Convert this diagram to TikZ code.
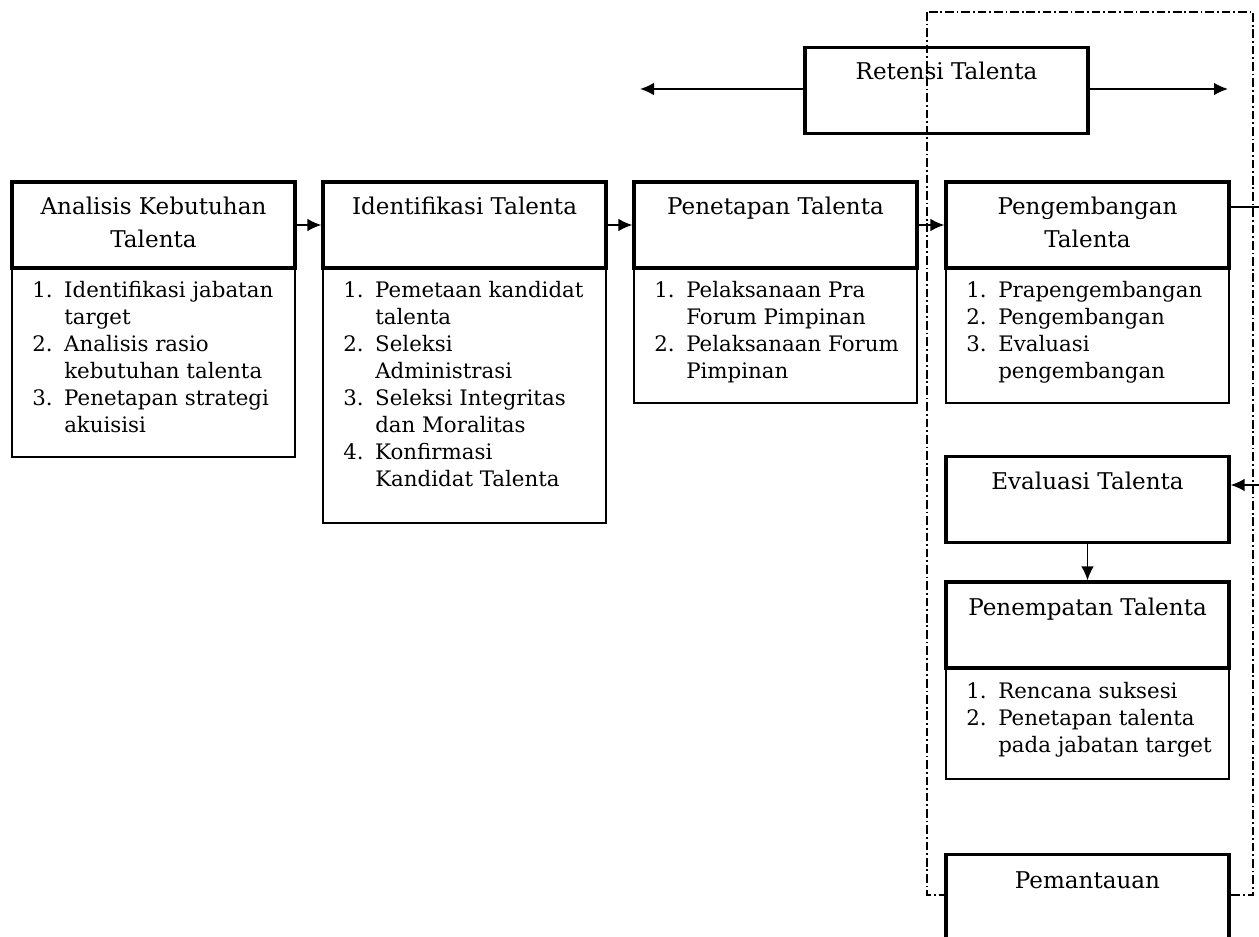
\documentclass[tikz,border=0pt]{standalone}
\usepackage{fontspec}
\setmainfont{DejaVu Serif}
\usetikzlibrary{arrows.meta}
\newcommand\htfont{\fontsize{17.3}{24.75}\selectfont}
\newcommand\ltfont{\fontsize{16}{20.25}\selectfont}
\newcommand\li[1]{\makebox[24pt][l]{#1}}
\begin{document}
\begin{tikzpicture}[x=0.75pt,y=-0.75pt,
  hdr/.style={draw, line width=2.4pt, minimum width=212.25pt, minimum height=64.5pt, inner sep=0pt, fill=white},
  lst/.style={draw, line width=1.2pt, minimum width=212.25pt, inner sep=0pt, anchor=north},
  htxt/.style={inner sep=0pt, anchor=base, font=\htfont},
  ltxt/.style={inner sep=0pt, anchor=base west, font=\ltfont},
  arr/.style={-{Latex[length=10.5pt,width=9.5pt]}, line width=1.3pt},
  frm/.style={line width=1.4pt, dash pattern=on 6.5pt off 2.2pt on 1.3pt off 2.2pt}]
\useasboundingbox (0,0) rectangle (1259,937);
\fill[white] (0,0) rectangle (1259,937);
% list boxes
\node[lst, minimum height=141pt] (al) at (153.5,268) {};
\node[lst, minimum height=190.5pt] (il) at (464.5,268) {};
\node[lst, minimum height=100.5pt] (pl) at (775.5,268) {};
\node[lst, minimum height=100.5pt] (dl) at (1087.5,268) {};
\node[lst, minimum height=82.5pt] (nl) at (1087.5,668) {};
% header boxes
\node[hdr] (ah) at (153.5,225) {};
\node[hdr] (ih) at (464.5,225) {};
\node[hdr] (ph) at (775.5,225) {};
\node[hdr] (dh) at (1087.5,225) {};
\node[hdr] (rh) at (946.5,90.5) {};
\node[hdr] (eh) at (1087.5,499.5) {};
\node[hdr] (nh) at (1087.5,625) {};
% header texts
\node[htxt] (at) at (153.5,215) {\begin{tabular}[t]{@{}c@{}}Analisis Kebutuhan\\Talenta\end{tabular}};
\node[htxt] (it) at (464.5,215) {Identifikasi Talenta};
\node[htxt] (pt) at (775.5,215) {Penetapan Talenta};
\node[htxt] (dt) at (1087.5,215) {\begin{tabular}[t]{@{}c@{}}Pengembangan\\Talenta\end{tabular}};
\node[htxt] (rt) at (946.5,80) {Retensi Talenta};
\node[htxt] (et) at (1087.5,489) {Evaluasi Talenta};
\node[htxt] (nt) at (1087.5,615) {Penempatan Talenta};
% list texts
\node[ltxt] (alt) at (32,298) {\begin{tabular}[t]{@{}l@{}}
\li{1.}Identifikasi jabatan\\ \li{}target\\
\li{2.}Analisis rasio\\ \li{}kebutuhan talenta\\
\li{3.}Penetapan strategi\\ \li{}akuisisi\end{tabular}};
\node[ltxt] (ilt) at (343,298) {\begin{tabular}[t]{@{}l@{}}
\li{1.}Pemetaan kandidat\\ \li{}talenta\\
\li{2.}Seleksi\\ \li{}Administrasi\\
\li{3.}Seleksi Integritas\\ \li{}dan Moralitas\\
\li{4.}Konfirmasi\\ \li{}Kandidat Talenta\end{tabular}};
\node[ltxt] (plt) at (654,298) {\begin{tabular}[t]{@{}l@{}}
\li{1.}Pelaksanaan Pra\\ \li{}Forum Pimpinan\\
\li{2.}Pelaksanaan Forum\\ \li{}Pimpinan\end{tabular}};
\node[ltxt] (dlt) at (966,298) {\begin{tabular}[t]{@{}l@{}}
\li{1.}Prapengembangan\\ \li{2.}Pengembangan\\
\li{3.}Evaluasi\\ \li{}pengembangan\end{tabular}};
\node[ltxt] (nlt) at (966,698) {\begin{tabular}[t]{@{}l@{}}
\li{1.}Rencana suksesi\\ \li{2.}Penetapan talenta\\
\li{}pada jabatan target\end{tabular}};
% connectors
\coordinate (rl) at (640,89);
\coordinate (rr) at (1228,89);
\coordinate (dr) at (1259,207);
\coordinate (er) at (1259,485);
\draw[arr] (rh.west |- rl) -- (rl);
\draw[arr] (rh.east |- rr) -- (rr);
\draw[arr] (ah.east) -- (ih.west);
\draw[arr] (ih.east) -- (ph.west);
\draw[arr] (ph.east) -- (dh.west);
\draw[line width=1.1pt] (dh.east |- dr) -- (dr);
\draw[arr] (er) -- (eh.east |- er);
\draw[arr] (eh.south) -- (nh.north);
% frame
\draw[frm] (927,12) rectangle (1253,895);
% Pemantauan
\node[hdr] (mh) at (1087.5,897.5) {};
\node[htxt] (mt) at (1087.5,888) {Pemantauan};
\end{tikzpicture}
\end{document}
